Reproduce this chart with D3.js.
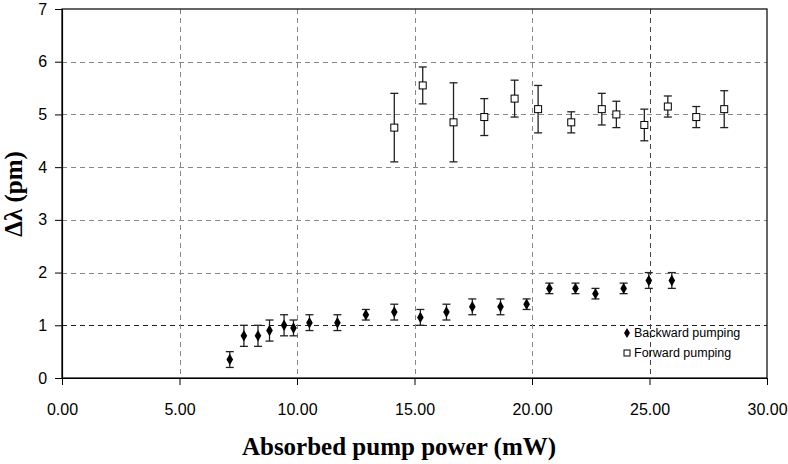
<!DOCTYPE html>
<html><head><meta charset="utf-8">
<script src="https://cdn.jsdelivr.net/npm/d3@7"></script>
<style>body{margin:0;background:#fff}svg{display:block}</style>
</head><body>
<svg id="c" width="788" height="464"></svg>
<script>
const backX = [7.14,7.74,8.34,8.83,9.45,9.85,10.53,11.72,12.93,14.14,15.25,16.36,17.46,18.66,19.77,20.74,21.85,22.70,23.90,24.97,25.95];
const backY = [0.35,0.80,0.80,0.90,1.00,0.95,1.05,1.05,1.20,1.25,1.15,1.25,1.35,1.35,1.40,1.70,1.70,1.60,1.70,1.85,1.85];
const backErr = [0.15,0.2,0.2,0.2,0.2,0.15,0.15,0.15,0.1,0.15,0.15,0.15,0.15,0.15,0.1,0.1,0.1,0.1,0.1,0.15,0.15];
const fwdX = [14.14,15.35,16.66,17.97,19.26,20.26,21.67,22.97,23.59,24.78,25.78,26.99,28.18];
const fwdY = [4.75,5.55,4.85,4.95,5.30,5.10,4.85,5.10,5.00,4.80,5.15,4.95,5.10];
const fwdErr = [0.65,0.35,0.75,0.35,0.35,0.45,0.2,0.3,0.25,0.3,0.2,0.2,0.35];
const xTicks = [0,5,10,15,20,25,30];
const yTicks = [0,1,2,3,4,5,6,7];
const seriesNames = ["Backward pumping","Forward pumping"];

const svg = d3.select("#c");
const L=62, R=767, T=9, B=378;
const x = d3.scaleLinear().domain([0,30]).range([L,R]);
const y = d3.scaleLinear().domain([0,7]).range([B,T]);

// grid
svg.append("g").selectAll("line").data(yTicks.filter(d=>d>0&&d<7)).join("line")
  .attr("x1",L).attr("x2",R).attr("y1",d=>Math.round(y(d))+0.5).attr("y2",d=>Math.round(y(d))+0.5)
  .attr("stroke",d=>d===1?"#222":"#888").attr("stroke-width",1).attr("stroke-dasharray","5,4");
svg.append("g").selectAll("line").data(xTicks.filter(d=>d>0&&d<30)).join("line")
  .attr("y1",T).attr("y2",B).attr("x1",d=>Math.round(x(d))+0.5).attr("x2",d=>Math.round(x(d))+0.5)
  .attr("stroke",d=>d===25?"#444":"#888").attr("stroke-width",1).attr("stroke-dasharray","5,4");

// border
svg.append("rect").attr("x",L).attr("y",T).attr("width",R-L).attr("height",B-T)
  .attr("fill","none").attr("stroke","#000").attr("stroke-width",1.2);

// axes
const xa = svg.append("g").attr("transform",`translate(0,${B})`)
  .call(d3.axisBottom(x).tickValues(xTicks).tickFormat(d3.format(".2f")).tickSize(7).tickSizeOuter(0));
const ya = svg.append("g").attr("transform",`translate(${L},0)`)
  .call(d3.axisLeft(y).tickValues(yTicks).tickFormat(d3.format("d")).tickSize(7).tickSizeOuter(0));
[xa,ya].forEach(a=>{
  a.select(".domain").attr("stroke","#000").attr("stroke-width",1.2);
  a.selectAll(".tick line").attr("stroke","#000");
  a.selectAll(".tick text").attr("font-family","'Liberation Sans',Arial,sans-serif").attr("font-size",16).attr("fill","#000");
});
xa.selectAll(".tick text").attr("dy","1.7em");
ya.selectAll(".tick text").attr("dx","-0.3em");

// error bars
function errBars(xs,ys,es){
  const g = svg.append("g").attr("stroke","#222").attr("stroke-width",1.3);
  xs.forEach((xv,i)=>{
    const cx=x(xv), y1=y(ys[i]+es[i]), y2=y(ys[i]-es[i]);
    g.append("line").attr("x1",cx).attr("x2",cx).attr("y1",y1).attr("y2",y2);
    g.append("line").attr("x1",cx-4).attr("x2",cx+4).attr("y1",y1).attr("y2",y1);
    g.append("line").attr("x1",cx-4).attr("x2",cx+4).attr("y1",y2).attr("y2",y2);
  });
}
errBars(backX,backY,backErr);
errBars(fwdX,fwdY,fwdErr);

const diamond = d3.symbol().type(d3.symbolDiamond).size(38);
svg.append("g").selectAll("path").data(backX).join("path")
  .attr("d",diamond).attr("transform",(d,i)=>`translate(${x(d)},${y(backY[i])})`).attr("fill","#000");
svg.append("g").selectAll("rect").data(fwdX).join("rect")
  .attr("x",d=>x(d)-3.5).attr("y",(d,i)=>y(fwdY[i])-3.5).attr("width",7).attr("height",7)
  .attr("fill","#fff").attr("stroke","#000").attr("stroke-width",1);

// legend
const lg = svg.append("g");
lg.append("path").attr("d",d3.symbol().type(d3.symbolDiamond).size(30)).attr("transform","translate(627,333)").attr("fill","#000");
lg.append("rect").attr("x",624).attr("y",350).attr("width",6).attr("height",6).attr("fill","#fff").attr("stroke","#000");
lg.selectAll("text").data(seriesNames).join("text")
  .attr("x",634).attr("y",(d,i)=>337+i*20).text(d=>d)
  .attr("font-family","'Liberation Sans',Arial,sans-serif").attr("font-size",12.5).attr("fill","#000");

// titles
svg.append("text").attr("x",399).attr("y",455).attr("text-anchor","middle")
  .attr("font-family","'Liberation Serif','Times New Roman',serif").attr("font-weight","bold").attr("font-size",25)
  .text("Absorbed pump power (mW)");
svg.append("text").attr("transform","translate(22,194) rotate(-90)").attr("text-anchor","middle")
  .attr("font-family","'Liberation Serif','Times New Roman',serif").attr("font-weight","bold").attr("font-size",25)
  .text("Δλ (pm)");
</script>
</body></html>
